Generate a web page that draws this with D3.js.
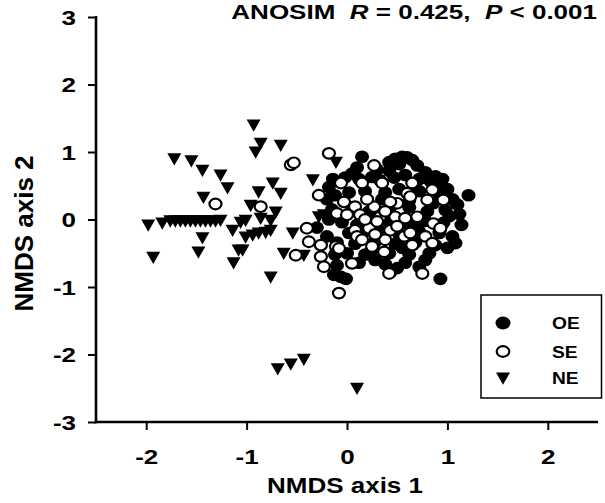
<!DOCTYPE html>
<html lang="en">
  <head>
    <meta charset="utf-8">
    <title>NMDS</title>
    <script src="https://d3js.org/d3.v7.min.js"></script>
    <style type="text/css">
      html, body { margin: 0; padding: 0; background: #fff; }
      text { font-family: "Liberation Sans", Arial, sans-serif; font-weight: bold; fill: #000; }
    </style>
  </head>
  <body>
    <svg width="605" height="503"></svg>
    <script type="text/javascript">

      // tick values
      var xTicks = [-2, -1, 0, 1, 2];
      var yTicks = [-3, -2, -1, 0, 1, 2, 3];

      // OE, filled circles
      var oe = [
        [0.15,0.93],[0.48,0.90],[0.55,0.93],[0.60,0.92],[0.65,0.88],[0.52,0.82],[0.70,0.80],[0.42,0.72],
        [0.05,0.68],[-0.02,0.62],[0.12,0.60],[0.25,0.63],[0.33,0.58],[0.47,0.62],[0.58,0.66],[0.72,0.60],
        [0.83,0.57],[0.92,0.52],[1.00,0.45],[-0.14,0.60],[0.30,0.74],[0.10,0.77],[0.78,0.70],[0.88,0.64],
        [0.95,0.60],[0.42,0.85],
        [-0.18,0.48],[-0.12,0.36],[-0.20,0.30],[0.02,0.40],[0.18,0.42],[0.38,0.40],[0.52,0.45],[0.72,0.42],
        [0.90,0.36],[1.05,0.30],[1.10,0.22],[1.21,0.36],[0.35,0.30],[0.62,0.28],[0.86,0.24],
        [-0.15,0.15],[0.05,0.18],[0.22,0.12],[0.42,0.14],[0.62,0.18],[0.80,0.12],[0.98,0.14],[1.12,0.08],
        [-0.05,-0.04],[0.18,-0.06],[0.40,-0.02],[0.58,-0.06],[0.78,-0.02],[0.96,-0.05],[1.14,-0.08],
        [1.02,0.05],[0.30,0.05],[0.10,-0.08],[0.68,-0.08],[-0.05,0.05],[-0.18,0.00],
        [0.02,-0.20],[0.15,-0.22],[0.33,-0.18],[0.52,-0.22],[0.72,-0.18],[0.92,-0.20],[1.05,-0.25],
        [-0.10,-0.34],[0.08,-0.36],[0.28,-0.33],[0.48,-0.36],[0.68,-0.34],[0.88,-0.38],[1.00,-0.42],
        [1.08,-0.35],[-0.20,-0.25],
        [0.00,-0.50],[0.18,-0.52],[0.42,-0.50],[0.62,-0.52],[0.82,-0.50],[-0.12,-0.52],[-0.10,-0.68],
        [0.25,-0.45],[0.55,-0.42],[0.78,-0.60],[0.28,-0.60],[0.50,-0.72],
        [0.12,-0.64],[0.38,-0.66],[0.58,-0.64],[0.72,-0.70],
        [-0.13,-0.82],[-0.06,-0.85],[-0.01,-0.88],[0.43,-0.78],[0.93,-0.88],
        [-0.30,-0.12]
      ];

      // SE, open circles
      var se = [
        [-1.31,0.23],[-0.86,0.19],[-0.56,0.81],[-0.53,0.84],[-0.51,-0.53],[-0.18,0.98],[0.27,0.80],
        [0.15,0.54],[0.35,0.54],[-0.06,0.54],[-0.03,0.26],[0.08,0.19],[0.27,0.19],[0.50,0.24],
        [0.48,0.04],[0.33,0.04],[0.13,0.07],[-0.10,0.09],[0.22,-0.13],[0.08,-0.16],[0.43,-0.16],
        [0.38,-0.30],[0.37,-0.48],[0.57,-0.25],[0.05,-0.65],[0.42,-0.80],[-0.08,-1.09],[-0.11,-0.40],
        [0.25,-0.40],[0.60,0.39],
        [0.65,0.54],[0.85,0.44],[0.96,0.29],[0.63,0.34],[0.80,0.29],[0.58,0.02],[0.70,0.04],
        [0.86,-0.06],[0.93,-0.13],[0.78,-0.25],[0.63,-0.20],[0.85,-0.35],[0.65,-0.38],[0.75,-0.80],
        [-0.28,0.36],[-0.40,-0.13],[-0.38,-0.33],[-0.26,-0.38],[-0.26,-0.55],[-0.23,-0.70],
        [-0.08,-0.43],[0.00,0.07],[0.10,-0.25],[0.30,-0.03],[0.43,0.26],
        [0.18,0.00],[0.28,-0.22],[0.50,-0.10],[0.20,0.30],[0.38,0.12],[0.15,-0.30]
      ];

      // NE, filled down triangles
      var ne = [
        [-1.72,0.90],[-1.55,0.87],[-1.44,0.73],[-1.26,0.66],[-1.19,0.47],[-1.43,0.33],
        [-1.98,-0.08],[-1.84,-0.05],[-1.76,-0.02],[-1.71,-0.02],[-1.66,-0.02],[-1.61,-0.02],
        [-1.56,-0.02],[-1.51,-0.02],[-1.46,-0.02],[-1.41,-0.02],[-1.36,-0.02],[-1.31,-0.02],[-1.26,-0.01],
        [-1.44,-0.27],[-1.48,-0.48],[-1.93,-0.56],[-1.14,-0.16],[-1.13,-0.64],[-1.08,-0.45],
        [-0.93,1.40],[-0.86,1.13],[-0.91,1.00],[-0.66,1.10],[-0.74,0.54],[-0.66,0.39],[-0.88,0.41],
        [-0.96,0.21],[-0.71,0.11],[-0.76,-0.01],[-0.86,0.02],[-1.01,-0.01],[-1.06,-0.04],
        [-1.01,-0.26],[-0.94,-0.23],[-0.88,-0.20],[-0.81,-0.19],[-0.76,-0.16],[-1.04,-0.45],
        [-0.63,-0.50],[-0.43,-0.53],[-0.76,-0.85],[-0.54,-0.20],[-0.34,0.59],[-0.28,0.04],
        [-0.23,0.07],[-0.11,0.85],
        [-0.69,-2.21],[-0.56,-2.14],[-0.43,-2.07],[0.10,-2.50]
      ];

      var legendItems = ["OE", "SE", "NE"];

      var svg = d3.select("svg");

      var x = d3.scaleLinear().domain([-2.5, 2.5]).range([96, 598]);
      var y = d3.scaleLinear().domain([-3, 3]).range([422, 17]);

      // the original figure is a bit wider than tall, so text and marks get stretched sideways
      var sx = 1.3;
      var tri = "M-7,-5.5 L7,-5.5 L0,6.8 Z";

      // axes
      var xAxis = svg.append("g")
          .attr("transform", "translate(0,422)")
          .call(d3.axisBottom(x).tickValues(xTicks).tickSize(8).tickSizeOuter(0).tickPadding(20)
                .tickFormat(function(d) { return String(d); }));
      var yAxis = svg.append("g")
          .attr("transform", "translate(96,0)")
          .call(d3.axisLeft(y).tickValues(yTicks).tickSize(8).tickSizeOuter(0).tickPadding(12)
                .tickFormat(function(d) { return String(d); }));

      [xAxis, yAxis].forEach(function(a) {
        a.select(".domain").attr("stroke", "#000").attr("stroke-width", 2.6);
        a.selectAll(".tick line").attr("stroke", "#000").attr("stroke-width", 2);
        a.selectAll(".tick text")
          .attr("fill", "#000")
          .attr("transform", "scale(" + sx + ",1)")
          .style("font-size", "20px")
          .style("font-family", "'Liberation Sans', Arial, sans-serif")
          .style("font-weight", "bold");
      });
      xAxis.selectAll(".tick text").attr("y", 27.5);
      yAxis.selectAll(".tick text").attr("x", -20 / sx).attr("dy", "0.36em");
      yAxis.select(".domain").attr("d", "M0," + (y(3) - 1) + "V" + (y(-3) + 1.3));
      xAxis.select(".domain").attr("d", "M" + (x(-2.5) - 1.3) + ",0H" + x(2.5));

      // points
      svg.append("g").selectAll("ellipse")
        .data(oe).enter().append("ellipse")
        .attr("cx", function(d) { return x(d[0]); })
        .attr("cy", function(d) { return y(d[1]); })
        .attr("rx", 7).attr("ry", 6.3)
        .attr("fill", "#000");

      svg.append("g").selectAll("path")
        .data(ne).enter().append("path")
        .attr("d", tri)
        .attr("transform", function(d) { return "translate(" + x(d[0]) + "," + y(d[1]) + ")"; })
        .attr("fill", "#000");

      svg.append("g").selectAll("ellipse")
        .data(se).enter().append("ellipse")
        .attr("cx", function(d) { return x(d[0]); })
        .attr("cy", function(d) { return y(d[1]); })
        .attr("rx", 6).attr("ry", 5.3)
        .attr("fill", "#fff")
        .attr("stroke", "#000")
        .attr("stroke-width", 2.2);

      // text stretched to a measured width
      function fitText(g, w) {
        var t = g.select("text");
        var len = t.node().getComputedTextLength();
        var ax = +g.attr("data-x"), ay = +g.attr("data-y");
        g.attr("transform", "translate(" + ax + "," + ay + ") scale(" + (w / len) + ",1)");
      }

      // axis titles
      var xt = svg.append("g").attr("data-x", 345).attr("data-y", 492.5);
      xt.append("text").attr("text-anchor", "middle").style("font-size", "22px").text("NMDS axis 1");
      fitText(xt, 156);

      svg.append("text")
        .attr("transform", "translate(32.5,233.5) rotate(-90)")
        .attr("text-anchor", "middle")
        .style("font-size", "26px")
        .text("NMDS axis 2");

      // ANOSIM statistic
      var tg = svg.append("g").attr("data-x", 597).attr("data-y", 19);
      var title = tg.append("text")
        .attr("text-anchor", "end")
        .style("font-size", "20px")
        .attr("xml:space", "preserve");
      title.append("tspan").text("ANOSIM  ");
      title.append("tspan").style("font-style", "italic").text("R");
      title.append("tspan").text(" = 0.425,  ");
      title.append("tspan").style("font-style", "italic").text("P");
      title.append("tspan").text(" < 0.001");
      fitText(tg, 366);

      // legend
      var lg = svg.append("g");
      lg.append("rect")
        .attr("x", 481).attr("y", 295)
        .attr("width", 120.5).attr("height", 103)
        .attr("fill", "#fff")
        .attr("stroke", "#000")
        .attr("stroke-width", 1.5);

      var ly = [323, 351.5, 378];
      lg.append("ellipse").attr("cx", 503).attr("cy", ly[0]).attr("rx", 7.5).attr("ry", 6.4).attr("fill", "#000");
      lg.append("ellipse").attr("cx", 503).attr("cy", ly[1]).attr("rx", 6.3).attr("ry", 5.3)
        .attr("fill", "#fff").attr("stroke", "#000").attr("stroke-width", 2.2);
      lg.append("path").attr("d", tri).attr("transform", "translate(503," + ly[2] + ")").attr("fill", "#000");

      lg.selectAll("g.lab")
        .data(legendItems).enter().append("g")
        .attr("class", "lab")
        .attr("transform", function(d, i) { return "translate(552," + (ly[i] + 6) + ") scale(1.2,1)"; })
        .append("text")
        .style("font-size", "16px")
        .text(function(d) { return d; });

    </script>
  </body>
</html>
